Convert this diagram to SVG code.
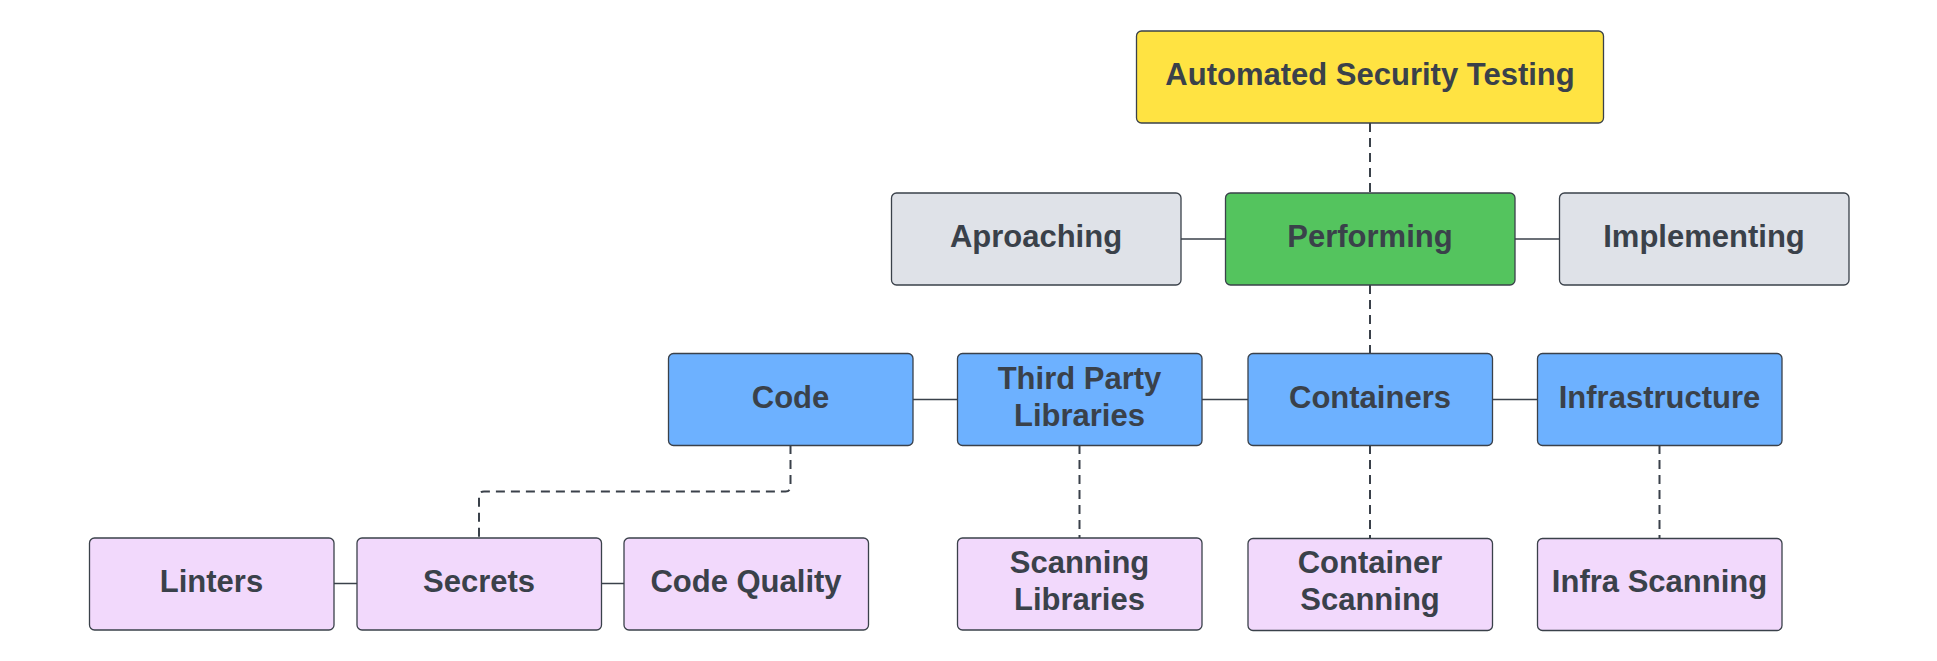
<svg xmlns="http://www.w3.org/2000/svg" width="1937" height="661" viewBox="0 0 1937 661">
<style>
.box{stroke:#3a414a;stroke-width:1.3}
.yellow{fill:#ffe342}
.gray{fill:#dfe2e8}
.green{fill:#54c45e}
.blue{fill:#6db1ff}
.pink{fill:#f2d9fc}
text{font-family:"Liberation Sans",Arial,sans-serif;font-weight:bold;font-size:31px;fill:#3a414a;text-anchor:middle}
.solid{stroke:#3a414a;stroke-width:1.5;fill:none}
.dash{stroke:#3a414a;stroke-width:2;fill:none;stroke-dasharray:9 6}
</style>
<rect width="1937" height="661" fill="#ffffff"/>
<g id="connectors">
<line class="dash" x1="1370" y1="123" x2="1370" y2="193"/>
<line class="solid" x1="1181" y1="239" x2="1225" y2="239"/>
<line class="solid" x1="1515" y1="239" x2="1559" y2="239"/>
<line class="dash" x1="1370" y1="285" x2="1370" y2="353"/>
<line class="solid" x1="913" y1="399.5" x2="957" y2="399.5"/>
<line class="solid" x1="1202" y1="399.5" x2="1248" y2="399.5"/>
<line class="solid" x1="1492" y1="399.5" x2="1537" y2="399.5"/>
<path class="dash" d="M790.5,445 V486.5 Q790.5,491.5 785.5,491.5 H484 Q479,491.5 479,496.5 V538"/>
<line class="dash" x1="1079.5" y1="445" x2="1079.5" y2="538"/>
<line class="dash" x1="1370" y1="445" x2="1370" y2="538"/>
<line class="dash" x1="1659.5" y1="445" x2="1659.5" y2="538"/>
<line class="solid" x1="334" y1="583.5" x2="357" y2="583.5"/>
<line class="solid" x1="601" y1="583.5" x2="624" y2="583.5"/>
</g>
<g id="automated-security-testing">
<rect class="box yellow" x="1136.5" y="31" width="467" height="92" rx="5"/>
<text x="1370" y="84.5">Automated Security Testing</text>
</g>
<g id="aproaching">
<rect class="box gray" x="891.5" y="193" width="289.5" height="92" rx="5"/>
<text x="1036" y="246.5">Aproaching</text>
</g>
<g id="performing">
<rect class="box green" x="1225.5" y="193" width="289.5" height="92" rx="5"/>
<text x="1370" y="246.5">Performing</text>
</g>
<g id="implementing">
<rect class="box gray" x="1559.5" y="193" width="289.5" height="92" rx="5"/>
<text x="1704" y="246.5">Implementing</text>
</g>
<g id="code">
<rect class="box blue" x="668.5" y="353.5" width="244.5" height="92" rx="5"/>
<text x="790.5" y="407.5">Code</text>
</g>
<g id="third-party-libraries">
<rect class="box blue" x="957.5" y="353.5" width="244.5" height="92" rx="5"/>
<text x="1079.5" y="388.5">Third Party</text>
<text x="1079.5" y="425.5">Libraries</text>
</g>
<g id="containers">
<rect class="box blue" x="1248" y="353.5" width="244.5" height="92" rx="5"/>
<text x="1370" y="407.5">Containers</text>
</g>
<g id="infrastructure">
<rect class="box blue" x="1537.5" y="353.5" width="244.5" height="92" rx="5"/>
<text x="1659.5" y="407.5">Infrastructure</text>
</g>
<g id="linters">
<rect class="box pink" x="89.5" y="538" width="244.5" height="92" rx="5"/>
<text x="211.5" y="591.5">Linters</text>
</g>
<g id="secrets">
<rect class="box pink" x="357" y="538" width="244.5" height="92" rx="5"/>
<text x="479" y="591.5">Secrets</text>
</g>
<g id="code-quality">
<rect class="box pink" x="624" y="538" width="244.5" height="92" rx="5"/>
<text x="746" y="591.5">Code Quality</text>
</g>
<g id="scanning-libraries">
<rect class="box pink" x="957.5" y="538" width="244.5" height="92" rx="5"/>
<text x="1079.5" y="572.5">Scanning</text>
<text x="1079.5" y="609.5">Libraries</text>
</g>
<g id="container-scanning">
<rect class="box pink" x="1248" y="538.5" width="244.5" height="92" rx="5"/>
<text x="1370" y="573">Container</text>
<text x="1370" y="610">Scanning</text>
</g>
<g id="infra-scanning">
<rect class="box pink" x="1537.5" y="538.5" width="244.5" height="92" rx="5"/>
<text x="1659.5" y="592">Infra Scanning</text>
</g>
</svg>
